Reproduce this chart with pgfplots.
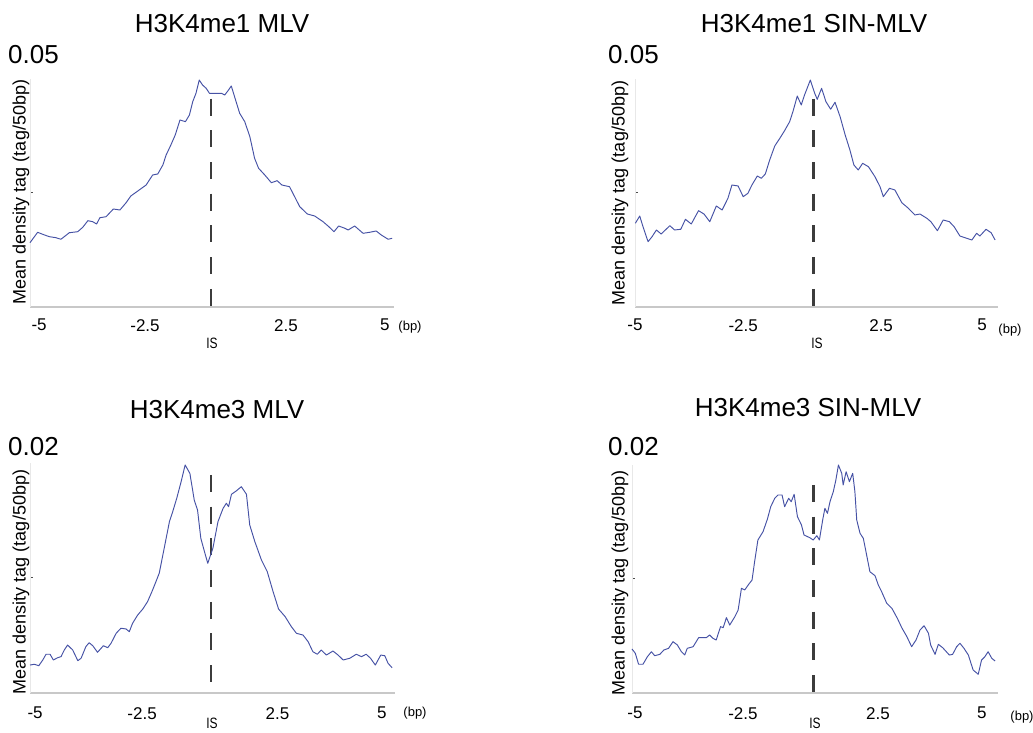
\documentclass[border=0pt]{standalone}
\usepackage{fontspec}
\setmainfont{Liberation Sans}
\usepackage{pgfplots}
\pgfplotsset{compat=1.18}
\usepackage{graphicx}

\definecolor{curve}{RGB}{70,82,165}
\definecolor{isdash}{RGB}{60,60,60}
\definecolor{xaxis}{RGB}{200,200,200}
\definecolor{yaxis}{RGB}{232,232,232}

\pgfplotsset{
  panel/.style={
    scale only axis,
    xmin=-5, xmax=5, ymin=0,
    axis x line*=bottom, axis y line*=left,
    x axis line style={draw=xaxis, line width=1.5pt, -},
    y axis line style={draw=yaxis, line width=1pt, -},
    scaled y ticks=false, scaled x ticks=false,
    xtick style={draw=none},
    ytick style={draw=black!70, line width=1pt},
    yticklabels={},
    major tick length=2.5pt,
    tick align=inside,
    xticklabel style={font=\fontsize{17}{20}\selectfont, anchor=north, inner sep=0pt},
    clip=false,
  },
  curve/.style={color=curve, line width=0.95pt, mark=none, line join=round},
  isline/.style={isdash, line width=2.5pt, dash pattern=on 17pt off 14.7pt, mark=none},
}
\newcommand{\ttl}{\fontsize{26}{30}\selectfont}
\newcommand{\ylb}{\fontsize{18}{21}\selectfont}
\newcommand{\isl}{\fontsize{15}{17}\selectfont}

\begin{document}
\begin{tikzpicture}
\useasboundingbox (0pt,0pt) rectangle (1033pt,733pt);

% ---------- Panel 1: H3K4me1 MLV ----------
\begin{axis}[panel, at={(30pt,426pt)}, anchor=south west, width=364pt, height=228pt,
  ymax=0.05, ytick={0.025},
  xtick={-4.75,-1.84,2.03,4.75}, xticklabels={-5,-2.5,2.5,5},
  xticklabel style={yshift=-12pt}]
\addplot[isline] coordinates {(-0.03,0.0457) (-0.03,0)};
\addplot[curve] coordinates {
(-5.00,0.01410) (-4.79,0.01638) (-4.65,0.01594) (-4.47,0.01542) (-4.29,0.01520) (-4.15,0.01485)
(-3.92,0.01629) (-3.69,0.01651) (-3.55,0.01748) (-3.41,0.01893) (-3.28,0.01871) (-3.17,0.01820)
(-3.08,0.01958) (-2.91,0.01980) (-2.71,0.02149) (-2.53,0.02127) (-2.36,0.02287) (-2.23,0.02434)
(-2.00,0.02566) (-1.81,0.02675) (-1.63,0.02895) (-1.49,0.02917) (-1.35,0.03114) (-1.26,0.03333)
(-1.13,0.03553) (-1.01,0.03772) (-0.88,0.04101) (-0.73,0.04064) (-0.62,0.04211) (-0.53,0.04502)
(-0.44,0.04686) (-0.35,0.04978) (-0.26,0.04868) (-0.16,0.04796) (-0.07,0.04686) (0.07,0.04686)
(0.26,0.04686) (0.35,0.04649) (0.44,0.04743) (0.53,0.04847) (0.62,0.04612) (0.76,0.04248)
(0.90,0.04064) (1.04,0.03735) (1.17,0.03261) (1.28,0.03042) (1.45,0.02895) (1.63,0.02726)
(1.79,0.02770) (1.92,0.02675) (2.13,0.02638) (2.27,0.02419) (2.41,0.02200) (2.62,0.02039)
(2.82,0.01996) (3.05,0.01871) (3.21,0.01761) (3.35,0.01651) (3.48,0.01776) (3.65,0.01726)
(3.74,0.01689) (3.92,0.01776) (4.15,0.01616) (4.33,0.01638) (4.51,0.01667) (4.65,0.01579)
(4.84,0.01485) (4.95,0.01507)};
\end{axis}

% ---------- Panel 2: H3K4me1 SIN-MLV ----------
\begin{axis}[panel, at={(635pt,426pt)}, anchor=south west, width=363pt, height=228pt,
  ymax=0.05, ytick={0.025},
  xtick={-5.0,-2.02,1.78,4.56}, xticklabels={-5,-2.5,2.5,5},
  xticklabel style={yshift=-12pt}]
\addplot[isline] coordinates {(-0.08,0.0457) (-0.08,0)};
\addplot[curve] coordinates {
(-4.99,0.01836) (-4.87,0.01996) (-4.78,0.01761) (-4.64,0.01432) (-4.53,0.01542) (-4.41,0.01689)
(-4.28,0.01601) (-4.04,0.01783) (-3.91,0.01689) (-3.74,0.01704) (-3.61,0.01923) (-3.45,0.01820)
(-3.25,0.02112) (-3.10,0.02039) (-2.94,0.01871) (-2.76,0.02215) (-2.60,0.02127) (-2.44,0.02384)
(-2.33,0.02675) (-2.16,0.02654) (-2.02,0.02419) (-1.89,0.02493) (-1.78,0.02675) (-1.63,0.02873)
(-1.52,0.02822) (-1.41,0.02917) (-1.29,0.03224) (-1.15,0.03531) (-1.01,0.03700) (-0.88,0.03866)
(-0.74,0.04064) (-0.65,0.04283) (-0.53,0.04627) (-0.42,0.04430) (-0.33,0.04649) (-0.17,0.04978)
(-0.05,0.04686) (0.02,0.04555) (0.14,0.04796) (0.26,0.04502) (0.39,0.04336) (0.51,0.04489)
(0.65,0.04173) (0.79,0.03772) (0.92,0.03443) (1.03,0.03114) (1.15,0.03004) (1.27,0.03151)
(1.43,0.03077) (1.61,0.02857) (1.75,0.02638) (1.84,0.02419) (2.01,0.02603) (2.16,0.02566)
(2.35,0.02287) (2.53,0.02165) (2.71,0.02018) (2.85,0.02039) (3.04,0.01945) (3.15,0.01871)
(3.33,0.01673) (3.49,0.01908) (3.66,0.01871) (3.79,0.01761) (3.95,0.01557) (4.14,0.01507)
(4.28,0.01469) (4.41,0.01616) (4.50,0.01557) (4.67,0.01704) (4.81,0.01629) (4.92,0.01469)};
\end{axis}

% ---------- Panel 3: H3K4me3 MLV ----------
\begin{axis}[panel, at={(30pt,40pt)}, anchor=south west, width=365pt, height=230pt,
  ymax=0.02, ytick={0.01},
  xtick={-4.86,-1.93,1.78,4.64}, xticklabels={-5,-2.5,2.5,5},
  xticklabel style={yshift=-14pt}]
\addplot[isline] coordinates {(-0.04,0.01896) (-0.04,0)};
\addplot[curve] coordinates {
(-5.00,0.00243) (-4.88,0.00250) (-4.76,0.00237) (-4.65,0.00287) (-4.56,0.00337) (-4.45,0.00337)
(-4.36,0.00287) (-4.24,0.00307) (-4.15,0.00316) (-4.06,0.00374) (-3.97,0.00417) (-3.83,0.00374)
(-3.69,0.00281) (-3.60,0.00302) (-3.47,0.00403) (-3.38,0.00437) (-3.28,0.00411) (-3.15,0.00354)
(-2.99,0.00411) (-2.87,0.00394) (-2.78,0.00432) (-2.64,0.00519) (-2.51,0.00563) (-2.37,0.00557)
(-2.28,0.00533) (-2.19,0.00606) (-2.05,0.00678) (-1.91,0.00730) (-1.78,0.00794) (-1.66,0.00881)
(-1.55,0.00968) (-1.46,0.01041) (-1.36,0.01200) (-1.27,0.01345) (-1.18,0.01490) (-1.09,0.01577)
(-0.98,0.01693) (-0.86,0.01837) (-0.75,0.01983) (-0.62,0.01910) (-0.50,0.01678) (-0.41,0.01591)
(-0.32,0.01345) (-0.22,0.01229) (-0.13,0.01128) (0.01,0.01258) (0.08,0.01374) (0.15,0.01490)
(0.29,0.01606) (0.38,0.01650) (0.44,0.01620) (0.52,0.01728) (0.65,0.01757) (0.79,0.01794)
(0.93,0.01728) (1.02,0.01461) (1.16,0.01316) (1.34,0.01157) (1.50,0.01055) (1.66,0.00881)
(1.81,0.00730) (1.99,0.00664) (2.16,0.00577) (2.30,0.00519) (2.48,0.00504) (2.62,0.00446)
(2.75,0.00359) (2.87,0.00337) (2.98,0.00374) (3.12,0.00330) (3.30,0.00365) (3.44,0.00330)
(3.58,0.00287) (3.76,0.00302) (3.94,0.00337) (4.08,0.00316) (4.21,0.00337) (4.33,0.00302)
(4.46,0.00243) (4.61,0.00330) (4.72,0.00324) (4.81,0.00258) (4.92,0.00220)};
\end{axis}

% ---------- Panel 4: H3K4me3 SIN-MLV ----------
\begin{axis}[panel, at={(632pt,40pt)}, anchor=south west, width=366pt, height=228pt,
  ymax=0.02, ytick={0.01},
  xtick={-4.92,-1.97,1.72,4.56}, xticklabels={-5,-2.5,2.5,5},
  xticklabel style={yshift=-14pt}]
\addplot[isline] coordinates {(-0.04,0.01825) (-0.04,0)};
\addplot[curve] coordinates {
(-5.00,0.00386) (-4.91,0.00348) (-4.82,0.00252) (-4.70,0.00252) (-4.58,0.00318) (-4.47,0.00362)
(-4.38,0.00327) (-4.24,0.00339) (-4.13,0.00377) (-4.00,0.00392) (-3.88,0.00450) (-3.76,0.00421)
(-3.65,0.00362) (-3.56,0.00333) (-3.49,0.00392) (-3.33,0.00406) (-3.18,0.00485) (-2.97,0.00485)
(-2.88,0.00509) (-2.79,0.00480) (-2.70,0.00465) (-2.58,0.00582) (-2.51,0.00573) (-2.42,0.00661)
(-2.33,0.00596) (-2.19,0.00669) (-2.10,0.00728) (-2.01,0.00918) (-1.92,0.00904) (-1.81,0.00954)
(-1.72,0.00991) (-1.65,0.01152) (-1.56,0.01342) (-1.42,0.01415) (-1.30,0.01526) (-1.21,0.01634)
(-1.10,0.01708) (-1.01,0.01737) (-0.90,0.01737) (-0.83,0.01634) (-0.72,0.01708) (-0.65,0.01678)
(-0.57,0.01743) (-0.48,0.01547) (-0.37,0.01474) (-0.30,0.01386) (-0.14,0.01362) (-0.05,0.01342)
(0.05,0.01380) (0.12,0.01342) (0.21,0.01518) (0.27,0.01620) (0.34,0.01576) (0.41,0.01678)
(0.50,0.01766) (0.57,0.01868) (0.64,0.02000) (0.73,0.01927) (0.77,0.01825) (0.85,0.01941)
(0.94,0.01854) (1.03,0.01927) (1.09,0.01766) (1.14,0.01518) (1.23,0.01401) (1.32,0.01357)
(1.41,0.01211) (1.50,0.01064) (1.64,0.01029) (1.73,0.00947) (1.82,0.00889) (1.96,0.00787)
(2.10,0.00743) (2.25,0.00655) (2.37,0.00573) (2.51,0.00494) (2.64,0.00406) (2.76,0.00465)
(2.87,0.00553) (2.98,0.00590) (3.10,0.00524) (3.16,0.00421) (3.28,0.00339) (3.37,0.00427)
(3.49,0.00397) (3.67,0.00333) (3.76,0.00339) (3.87,0.00406) (3.96,0.00436) (4.07,0.00392)
(4.19,0.00333) (4.32,0.00202) (4.46,0.00164) (4.55,0.00289) (4.64,0.00318) (4.73,0.00362)
(4.83,0.00304) (4.92,0.00281)};
\end{axis}

% ---------- Texts ----------
\begin{scope}[every node/.style={inner sep=0pt}]
% panel 1
\node[font=\ttl] at (222pt,709pt) {H3K4me1 MLV};
\node[font=\ttl, anchor=west] at (8pt,678pt) {0.05};
\node[font=\ylb, rotate=90] at (21pt,541pt) {Mean density tag (tag/50bp)};
\node[font=\isl] at (212pt,390pt) {\scalebox{0.8}[1]{IS}};
\node[font=\fontsize{13}{15}\selectfont] at (410pt,406pt) {(bp)};
% panel 2
\node[font=\ttl] at (814pt,709pt) {H3K4me1 SIN-MLV};
\node[font=\ttl, anchor=west] at (608pt,678pt) {0.05};
\node[font=\ylb, rotate=90] at (620pt,540pt) {Mean density tag (tag/50bp)};
\node[font=\isl] at (817pt,390pt) {\scalebox{0.8}[1]{IS}};
\node[font=\fontsize{13}{15}\selectfont] at (1010pt,403pt) {(bp)};
% panel 3
\node[font=\ttl] at (217pt,323pt) {H3K4me3 MLV};
\node[font=\ttl, anchor=west] at (8pt,286pt) {0.02};
\node[font=\ylb, rotate=90] at (21pt,151pt) {Mean density tag (tag/50bp)};
\node[font=\isl] at (212pt,10pt) {\scalebox{0.8}[1]{IS}};
\node[font=\fontsize{13}{15}\selectfont] at (415pt,20pt) {(bp)};
% panel 4
\node[font=\ttl] at (808pt,325pt) {H3K4me3 SIN-MLV};
\node[font=\ttl, anchor=west] at (608pt,286pt) {0.02};
\node[font=\ylb, rotate=90] at (620pt,150pt) {Mean density tag (tag/50bp)};
\node[font=\isl] at (815pt,10pt) {\scalebox{0.8}[1]{IS}};
\node[font=\fontsize{13}{15}\selectfont] at (1022pt,16pt) {(bp)};
\end{scope}
\end{tikzpicture}
\end{document}
